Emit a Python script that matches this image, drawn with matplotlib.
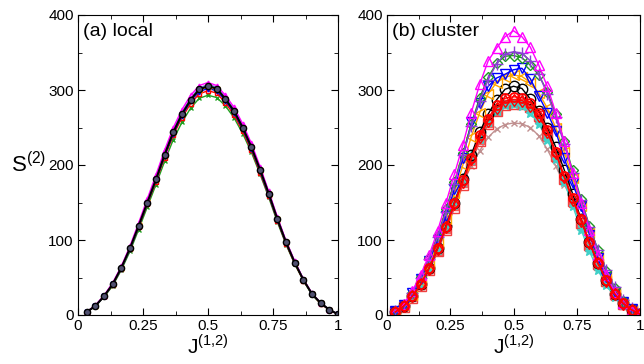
import numpy as np
import matplotlib
matplotlib.use("Agg")
import matplotlib.pyplot as plt
from matplotlib.ticker import MultipleLocator

plt.rcParams['font.family'] = ['Liberation Sans', 'DejaVu Sans']
plt.rcParams['mathtext.fontset'] = 'custom'
plt.rcParams['mathtext.rm'] = 'Liberation Sans'

# J^(1,2) grid, 30 points
J = np.arange(1, 31) / 30.0

# (a) local
local_black = [4,12,25,41,63,89,119,150,181,214,244,268,287,301,305,302,288,272,250,224,194,162,128,97,70,47,28,16,7,1]
local_mag = [4,13,26,43,65,92,123,155,187,220,250,274,293,306,310,306,293,277,255,229,198,165,131,99,72,48,29,16,7,1]
local_green = [4,12,24,39,60,85,114,144,174,205,234,257,276,289,293,290,279,263,242,217,188,157,124,94,68,46,27,15,7,1]
local_red = [4,12,25,40,62,88,117,148,178,210,240,263,282,295,299,296,283,267,245,220,190,159,126,95,69,46,28,15,7,1]
local_blue = [4,12,25,41,62,88,118,149,180,212,242,266,285,298,302,299,286,270,248,222,192,160,127,96,70,47,28,16,7,1]
local_cyan = [4,12,25,41,63,89,119,151,182,215,245,269,288,302,306,303,289,273,251,225,195,163,129,98,71,47,28,16,7,1]
local_orange = [4,12,25,41,63,89,120,151,182,214,244,268,287,300,304,301,288,272,250,224,194,162,128,97,70,47,28,16,7,1]
local_purple = [4,12,25,41,63,90,120,151,183,215,246,270,289,303,307,304,290,274,252,226,196,163,129,98,71,48,28,16,7,1]

# (b) cluster
cl_mag = [5,15,32,54,80,112,150,188,227,270,308,339,356,371,379,371,357,333,305,270,232,190,150,113,80,53,31,16,7,2]
cl_purple = [5,14,30,50,75,104,138,175,213,252,286,314,335,348,351,349,339,321,295,264,228,190,153,118,87,60,37,20,9,2]
cl_green = [5,14,30,51,76,106,141,178,216,255,290,317,336,345,346,343,333,320,298,268,232,193,155,119,87,59,36,19,8,2]
cl_blue = [5,14,29,48,72,100,132,168,210,257,283,305,316,321,327,329,315,292,270,245,210,176,145,107,76,51,31,17,8,2]
cl_orange = [5,13,27,45,68,96,128,163,200,238,270,295,310,317,320,318,310,296,276,250,218,183,146,110,78,52,31,16,7,2]
cl_black = [4,12,25,41,63,89,119,150,181,214,244,268,287,301,305,302,288,272,250,224,194,162,128,97,70,47,28,16,7,1]
cl_redhex = [4,12,25,41,63,89,118,150,180,210,240,262,280,289,291,290,283,270,247,218,186,156,128,97,70,47,28,16,7,1]
cl_reddia = [4,12,25,41,62,88,117,148,178,208,237,259,276,285,287,286,279,266,244,216,184,154,126,96,69,46,28,15,7,1]
cl_cyan = [4,12,25,42,64,90,121,152,183,213,238,258,272,280,282,279,270,255,234,208,178,146,114,85,60,40,24,13,6,1]
cl_cyansq = [4,12,24,40,61,86,115,145,176,206,234,256,272,281,283,282,276,262,238,210,180,150,120,91,66,44,26,14,6,1]
cl_redsq = [4,11,23,39,60,85,113,143,173,203,232,255,272,280,282,281,277,265,240,212,182,152,123,94,68,46,28,15,7,1]
cl_brown = [4,11,23,38,58,84,122,150,176,199,219,237,248,254,256,255,250,239,221,199,174,154,128,98,70,46,27,15,7,1]

fig = plt.figure(figsize=(6.44, 3.64), dpi=100)
axa = fig.add_axes([78/644, 1-315/364, 260/644, 300/364])
axb = fig.add_axes([387/644, 1-315/364, 253/644, 300/364])

# left panel: tightly overlapping small markers
small = dict(ms=3.5, lw=1.0, mew=1.0)
axa.plot(J, local_green, color='#1fa01f', marker='x', **small)
axa.plot(J, local_red, color='red', marker='s', mfc='none', **small)
axa.plot(J, local_blue, color='blue', marker='v', mfc='none', **small)
axa.plot(J, local_orange, color='orange', marker='<', mfc='none', **small)
axa.plot(J, local_purple, color='#8a3fd6', marker='+', **small)
axa.plot(J, local_cyan, color='#40d0c8', marker='*', **small)
axa.plot(J, local_mag, color='magenta', marker='^', mfc='none', **small)
axa.plot(J, local_black, color='black', marker='o', ms=4.5, mfc='#505070', mew=1.0, lw=1.5)

# right panel
big = dict(ms=6.5, lw=1.0, mew=1.0)
axb.plot(J, cl_brown, color='#c09090', marker='x', ms=5, lw=1.0, mew=1.0)
axb.plot(J, cl_cyansq, color='#40d0c8', marker='s', mfc='#40d0c8', mec='#f06060', ms=6, lw=1.0)
axb.plot(J, cl_redsq, color='#f04040', marker='s', mfc='none', **big)
axb.plot(J, cl_cyan, color='#40d0c8', marker='*', **big)
axb.plot(J, cl_black, color='black', marker='o', mfc='none', ms=7.5, lw=1.0)
axb.plot(J, cl_orange, color='orange', marker='<', mfc='none', **big)
axb.plot(J, cl_blue, color='blue', marker='v', mfc='none', **big)
axb.plot(J, cl_green, color='#1f9a1f', marker='D', mfc='none', ms=5, lw=1.0)
axb.plot(J, cl_purple, color='#8a3fd6', marker='+', ms=8, lw=1.0)
axb.plot(J, cl_mag, color='magenta', marker='^', mfc='none', **big)
axb.plot(J, cl_reddia, color='red', marker='d', mfc='none', ms=6, lw=1.0)
axb.plot(J, cl_redhex, color='red', marker='o', mfc='none', ms=6.5, mew=1.3, lw=1.0)

for ax, tag in ((axa, '(a) local'), (axb, '(b) cluster')):
    ax.set_xlim(0, 1)
    ax.set_ylim(0, 400)
    ax.set_xticks([0, 0.25, 0.5, 0.75, 1])
    ax.set_xticklabels(['0', '0.25', '0.5', '0.75', '1'])
    ax.set_yticks([0, 100, 200, 300, 400])
    ax.xaxis.set_minor_locator(MultipleLocator(0.125))
    ax.yaxis.set_minor_locator(MultipleLocator(50))
    ax.tick_params(which='both', direction='in', top=True, right=True, labelsize=11, pad=3)
    ax.tick_params(which='major', length=5)
    ax.tick_params(which='minor', length=3)
    ax.text(0.02, 0.975, tag, transform=ax.transAxes, fontsize=14, ha='left', va='top')
    ax.set_xlabel(r'J$^{\mathrm{(1{,}2)}}$', fontsize=15, labelpad=0)

axa.set_ylabel(r'S$^{\mathrm{(2)}}$', fontsize=16, rotation=0, ha='center', va='center')
axa.yaxis.set_label_coords(-0.19, 0.5)

fig.savefig('out.png', dpi=100)
